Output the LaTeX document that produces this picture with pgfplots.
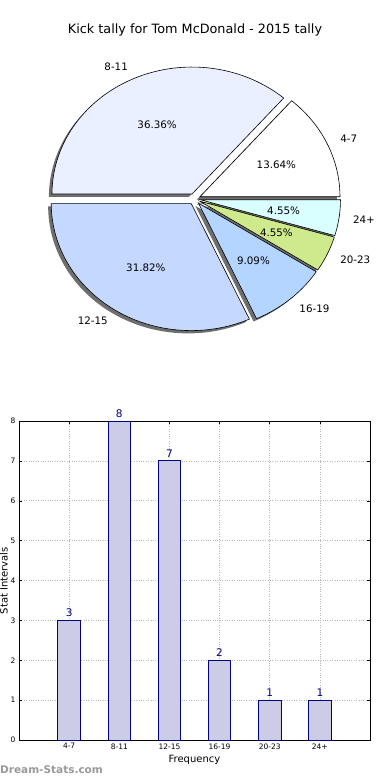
\documentclass[border=0pt]{standalone}
\usepackage{pgfplots}
\pgfplotsset{compat=1.18}
\usepackage{fontspec}
\setmainfont{DejaVu Sans}
\definecolor{cA}{HTML}{FFFFFF}
\definecolor{cB}{HTML}{EAF0FF}
\definecolor{cC}{HTML}{C5D8FF}
\definecolor{cD}{HTML}{B3D5FF}
\definecolor{cE}{HTML}{CFEA8C}
\definecolor{cF}{HTML}{D9FFFF}
\definecolor{shadowc}{HTML}{6E6E6E}
\definecolor{barfill}{HTML}{CCCCE6}
\definecolor{navyc}{HTML}{000080}

% pie data: counts per interval (total 22)
\def\pietotal{22}
\def\pieexplode{0.043}

% #1 cumulative count before slice, #2 count
\newcommand\pieshadow[2]{%
  \pgfmathsetmacro\aS{360*#1/\pietotal}%
  \pgfmathsetmacro\aE{360*(#1+#2)/\pietotal}%
  \pgfmathsetmacro\aM{(\aS+\aE)/2}%
  \pgfmathsetmacro\ox{\pieexplode*cos(\aM)-0.022}%
  \pgfmathsetmacro\oy{\pieexplode*sin(\aM)-0.022}%
  \edef\tmp{\noexpand\fill[shadowc] (axis cs:\ox,\oy) -- plot[domain=\aS:\aE, samples=80, variable=\noexpand\t] ({\ox+cos(\noexpand\t)},{\oy+sin(\noexpand\t)}) -- cycle;}%
  \tmp}
% #1 cumulative, #2 count, #3 colour, #4 label
\newcommand\pieslice[4]{%
  \pgfmathsetmacro\aS{360*#1/\pietotal}%
  \pgfmathsetmacro\aE{360*(#1+#2)/\pietotal}%
  \pgfmathsetmacro\aM{(\aS+\aE)/2}%
  \pgfmathsetmacro\ox{\pieexplode*cos(\aM)}%
  \pgfmathsetmacro\oy{\pieexplode*sin(\aM)}%
  \pgfmathsetmacro\px{\ox+0.6*cos(\aM)}%
  \pgfmathsetmacro\py{\oy+0.6*sin(\aM)}%
  \pgfmathsetmacro\lx{\ox+1.1*cos(\aM)}%
  \pgfmathsetmacro\ly{\oy+1.1*sin(\aM)}%
  \pgfmathsetmacro\pct{100*#2/\pietotal}%
  \ifdim\lx pt>0pt \def\anc{west}\else\def\anc{east}\fi
  \edef\tmp{\noexpand\filldraw[fill=#3, draw=black, line width=0.6bp, line join=miter] (axis cs:\ox,\oy) -- plot[domain=\aS:\aE, samples=80, variable=\noexpand\t] ({\ox+cos(\noexpand\t)},{\oy+sin(\noexpand\t)}) -- cycle;
    \noexpand\node[inner sep=0pt, anchor=center] at (axis cs:\px,\py) {\noexpand\pgfmathprintnumber[fixed, fixed zerofill, precision=2, assume math mode=true]{\pct}\noexpand\%};
    \noexpand\node[inner sep=0pt, anchor=\anc] at (axis cs:\lx,\ly) {#4};}%
  \tmp}

\begin{document}
\begin{tikzpicture}
\path[use as bounding box] (0,0) rectangle (390bp,-780bp);

\node[font=\fontsize{12.8bp}{15bp}\selectfont] at (195bp,-30bp) {Kick tally for Tom McDonald - 2015 tally};

\begin{axis}[
  at={(194.5bp,-199bp)}, anchor=center,
  scale only axis, width=364bp, height=330.2bp,
  xmin=-1.3, xmax=1.3, ymin=-1.3, ymax=1.3,
  hide axis, clip=false,
  font=\fontsize{10.3bp}{12bp}\selectfont,
]
\pieshadow{0}{3}
\pieshadow{3}{8}
\pieshadow{11}{7}
\pieshadow{18}{2}
\pieshadow{20}{1}
\pieshadow{21}{1}
\pieslice{0}{3}{cA}{4-7}
\pieslice{3}{8}{cB}{8-11}
\pieslice{11}{7}{cC}{12-15}
\pieslice{18}{2}{cD}{16-19}
\pieslice{20}{1}{cE}{20-23}
\pieslice{21}{1}{cF}{24+}
\end{axis}

\begin{axis}[
  at={(19bp,-740bp)}, anchor=south west,
  scale only axis, width=351bp, height=319bp,
  xmin=-1, xmax=6, ymin=0, ymax=8,
  xtick={0,...,5}, xticklabels={4-7,8-11,12-15,16-19,20-23,24+},
  ytick={0,...,8},
  ybar, bar width=0.45,
  grid=major, major grid style={dotted, line width=0.7bp, gray!55},
  tick align=inside, major tick length=3bp,
  tick style={black, line width=0.5bp},
  axis line style={black, line width=0.8bp},
  ticklabel style={font=\fontsize{7.5bp}{9bp}\selectfont},
  /pgf/number format/assume math mode=true,
  xlabel={Frequency}, ylabel={Stat Intervals},
  xlabel style={font=\fontsize{10bp}{12bp}\selectfont, at={(axis description cs:0.5,-0.0627)}, anchor=center},
  ylabel style={font=\fontsize{10bp}{12bp}\selectfont, at={(axis description cs:-0.043,0.5)}, anchor=center},
  nodes near coords,
  nodes near coords style={navyc, font=\fontsize{10.5bp}{12bp}\selectfont},
  clip=false,
]
\addplot[fill=barfill, draw=navyc, line width=0.8bp] coordinates {(0,3) (1,8) (2,7) (3,2) (4,1) (5,1)};
\end{axis}

\node[anchor=west, inner sep=0pt, text=black!40, font=\bfseries\fontsize{10.5bp}{12bp}\selectfont] at (0bp,-770bp) {Dream-Stats.com};
\end{tikzpicture}
\end{document}
